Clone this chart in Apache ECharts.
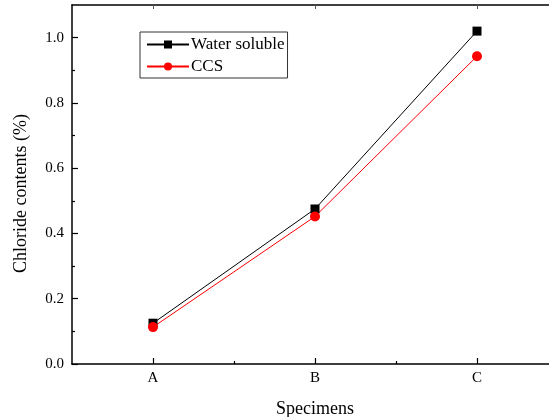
<!DOCTYPE html>
<html>
<head>
<meta charset="utf-8">
<script src="https://cdn.jsdelivr.net/npm/echarts@6/dist/echarts.min.js"></script>
<style>
html, body { margin: 0; padding: 0; background: #fff; }
#main { width: 549px; height: 417px; }
</style>
</head>
<body>
<div id="main"></div>
<script>
var specimens = ['A', 'B', 'C'];
var waterSoluble = [0.125, 0.475, 1.02];
var ccs = [0.113, 0.452, 0.943];
var yMajor = [0, 0.2, 0.4, 0.6, 0.8, 1.0];
var yMinor = [0.1, 0.3, 0.5, 0.7, 0.9];
var xMajor = [1, 2, 3];
var xMinor = [1.5, 2.5];

var font = 'Liberation Serif';

function pairs(vals) {
    return vals.map(function (v, i) { return [i + 1, v]; });
}

var option = {
    animation: false,
    backgroundColor: '#fff',
    grid: {
        left: 72,
        right: -9,
        top: 5,
        bottom: 53,
        outerBoundsMode: 'none',
        containLabel: false
    },
    legend: {
        left: 140,
        top: 32,
        orient: 'vertical',
        borderColor: '#333',
        borderWidth: 1,
        padding: [4, 3, 3, 6],
        itemWidth: 42,
        itemHeight: 10,
        itemGap: 5,
        textStyle: { fontFamily: font, fontSize: 17, color: '#000', padding: [0, 0, 0, -3] },
        data: ['Water soluble', 'CCS']
    },
    xAxis: [{
        type: 'value',
        min: 0.5,
        max: 3.5,
        position: 'bottom',
        name: 'Specimens',
        nameLocation: 'middle',
        nameGap: 36,
        nameTextStyle: { fontFamily: font, fontSize: 18, color: '#000' },
        axisLine: { lineStyle: { color: '#000', width: 1.5 } },
        axisTick: { inside: true, length: 6, customValues: xMajor, lineStyle: { color: '#000', width: 1.2 } },
        axisLabel: {
            customValues: xMajor,
            margin: 7,
            fontFamily: font, fontSize: 15, color: '#000',
            formatter: function (v) { return specimens[Math.round(v) - 1]; }
        },
        splitLine: { show: false }
    }, {
        type: 'value',
        min: 0.5,
        max: 3.5,
        position: 'bottom',
        axisLine: { show: false },
        axisTick: { inside: true, length: 3, customValues: xMinor, lineStyle: { color: '#000', width: 1.2 } },
        axisLabel: { show: false },
        splitLine: { show: false }
    }, {
        type: 'value',
        min: 0.5,
        max: 3.5,
        position: 'top',
        axisLine: { lineStyle: { color: '#000', width: 1.5 } },
        axisTick: { inside: true, length: 4, customValues: xMajor, lineStyle: { color: '#555', width: 1 } },
        axisLabel: { show: false },
        splitLine: { show: false }
    }],
    yAxis: [{
        type: 'value',
        min: 0,
        max: 1.1,
        name: 'Chloride contents (%)',
        nameLocation: 'middle',
        nameGap: 42,
        nameTextStyle: { fontFamily: font, fontSize: 18, color: '#000', padding: [0, 18, 0, 0] },
        axisLine: { show: true, lineStyle: { color: '#000', width: 1.5 } },
        axisTick: { inside: true, length: 6, customValues: yMajor, lineStyle: { color: '#000', width: 1.2 } },
        axisLabel: {
            customValues: yMajor,
            margin: 8,
            fontFamily: font, fontSize: 15, color: '#000',
            formatter: function (v) { return v.toFixed(1); }
        },
        splitLine: { show: false }
    }, {
        type: 'value',
        min: 0,
        max: 1.1,
        position: 'left',
        axisLine: { show: false },
        axisTick: { inside: true, length: 3, customValues: yMinor, lineStyle: { color: '#000', width: 1.2 } },
        axisLabel: { show: false },
        splitLine: { show: false }
    }],
    series: [{
        name: 'Water soluble',
        type: 'line',
        symbol: 'rect',
        symbolSize: 9,
        itemStyle: { color: '#000' },
        lineStyle: { color: '#000', width: 1 },
        data: pairs(waterSoluble)
    }, {
        name: 'CCS',
        type: 'line',
        symbol: 'circle',
        symbolSize: 10,
        itemStyle: { color: '#ff0000' },
        lineStyle: { color: '#ff0000', width: 1 },
        data: pairs(ccs)
    }]
};

var chart = echarts.init(document.getElementById('main'));
chart.setOption(option);
</script>
</body>
</html>
